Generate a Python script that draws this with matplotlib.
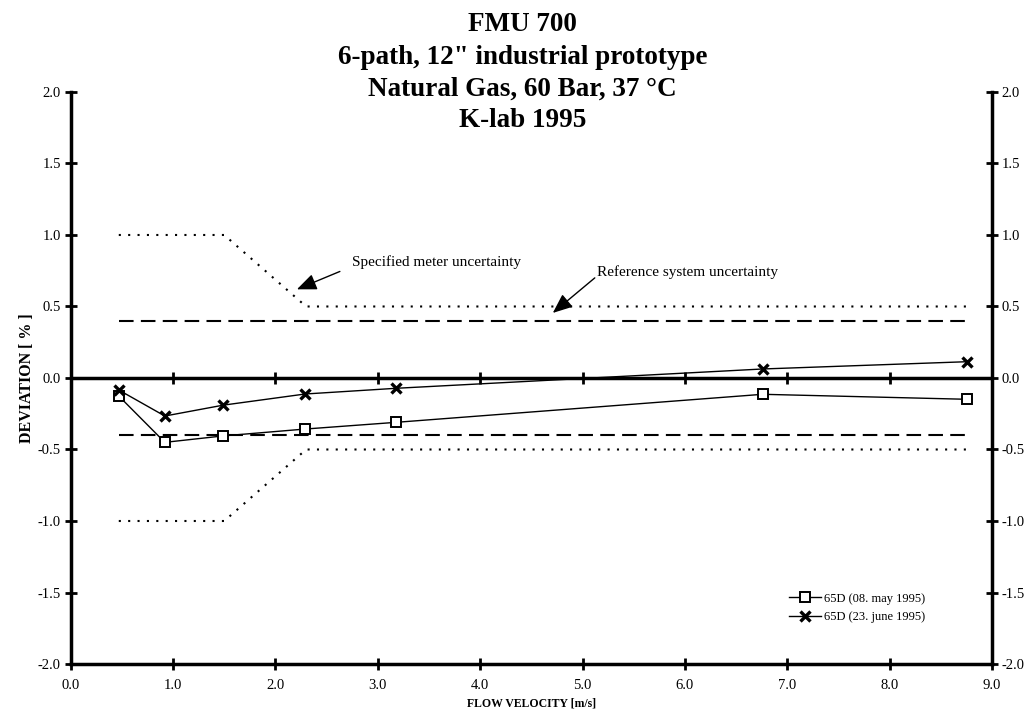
import matplotlib
matplotlib.use("Agg")
import matplotlib.pyplot as plt
import numpy as np

plt.rcParams['font.family'] = ['Liberation Serif', 'DejaVu Serif']

# Data
velocity = [0.47, 0.92, 1.49, 2.29, 3.18, 6.76, 8.76]
dev_may = [-0.126, -0.45, -0.405, -0.357, -0.31, -0.114, -0.149]
dev_june = [-0.084, -0.266, -0.19, -0.112, -0.072, 0.063, 0.114]

spec_x = [0.47, 1.5, 2.3, 8.8]
spec_upper = [1.0, 1.0, 0.5, 0.5]
spec_lower = [-1.0, -1.0, -0.5, -0.5]

ref_x = [0.47, 8.8]
ref_upper = [0.4, 0.4]
ref_lower = [-0.4, -0.4]

xticks = [0.0, 1.0, 2.0, 3.0, 4.0, 5.0, 6.0, 7.0, 8.0, 9.0]
yticks = [-2.0, -1.5, -1.0, -0.5, 0.0, 0.5, 1.0, 1.5, 2.0]

title_lines = ["FMU 700", "6-path, 12\" industrial prototype",
               "Natural Gas, 60 Bar, 37 \u00b0C", "K-lab 1995"]
legend_labels = ['65D (08. may 1995)', '65D (23. june 1995)']

fig = plt.figure(figsize=(10.33, 7.18), dpi=100)
ax = fig.add_axes([0.0684, 0.0752, 0.8919, 0.7967])

ax.set_xlim(0, 9)
ax.set_ylim(-2, 2)

# uncertainty bands
ax.plot(spec_x, spec_upper, color='black', lw=1.5, linestyle=(0, (1, 3.5)))
ax.plot(spec_x, spec_lower, color='black', lw=1.5, linestyle=(0, (1, 3.5)))
ax.plot(ref_x, ref_upper, color='black', lw=1.5, linestyle=(0, (7, 3.5)))
ax.plot(ref_x, ref_lower, color='black', lw=1.5, linestyle=(0, (7, 3.5)))

# zero line with crossing ticks
ax.axhline(0, color='black', lw=2.5, zorder=2)
ax.plot(xticks[1:-1], np.zeros(len(xticks) - 2), linestyle='none', marker='|',
        color='black', ms=9, mew=2, zorder=2)

# data series
ax.plot(velocity, dev_may, color='black', lw=1, marker='s', ms=7.5,
        mfc='white', mec='black', mew=1.4, label=legend_labels[0], zorder=4)
ax.plot(velocity, dev_june, color='black', lw=1, marker='x', ms=7,
        mew=2.4, label=legend_labels[1], zorder=4)

# annotations
arrow = dict(arrowstyle='-|>,head_length=1.2,head_width=0.5',
             color='black', lw=1, shrinkA=0, shrinkB=0)
ax.annotate('', xy=(2.21, 0.62), xytext=(2.63, 0.745), arrowprops=arrow)
ax.text(2.75, 0.81, 'Specified meter uncertainty', fontsize=11,
        va='center', ha='left')
ax.annotate('', xy=(4.71, 0.455), xytext=(5.12, 0.70), arrowprops=arrow)
ax.text(5.14, 0.74, 'Reference system uncertainty', fontsize=11,
        va='center', ha='left')

# spines
for s in ['left', 'right', 'bottom']:
    ax.spines[s].set_linewidth(2.5)
ax.spines['top'].set_visible(False)

ax.set_xticks(xticks)
ax.set_xticklabels([f"{v:.1f}" for v in xticks])
ax.set_yticks(yticks)
ax.set_yticklabels([f"{v:.1f}" for v in yticks])
ax.tick_params(axis='both', direction='inout', length=8, width=2, labelsize=10.5)
ax.tick_params(axis='y', right=True, labelright=True, pad=3)
ax.tick_params(axis='x', pad=7)

ax.set_xlabel('FLOW VELOCITY [m/s]', fontsize=8.5, fontweight='bold', labelpad=4)
ax.set_ylabel('DEVIATION [ % ]', fontsize=11.5, fontweight='bold', labelpad=2)

title_y = [0.9652, 0.9206, 0.8760, 0.8315]
for line, yy in zip(title_lines, title_y):
    fig.text(0.506, yy, line, ha='center', va='baseline' if False else 'center',
             fontsize=19.5, fontweight='bold')

leg = ax.legend(loc='upper left', bbox_to_anchor=(7.02, -1.50),
                bbox_transform=ax.transData, frameon=False,
                fontsize=9, handlelength=2.5, handletextpad=0.25,
                labelspacing=0.55, borderpad=0, borderaxespad=0)

fig.savefig('out.png', dpi=100)
